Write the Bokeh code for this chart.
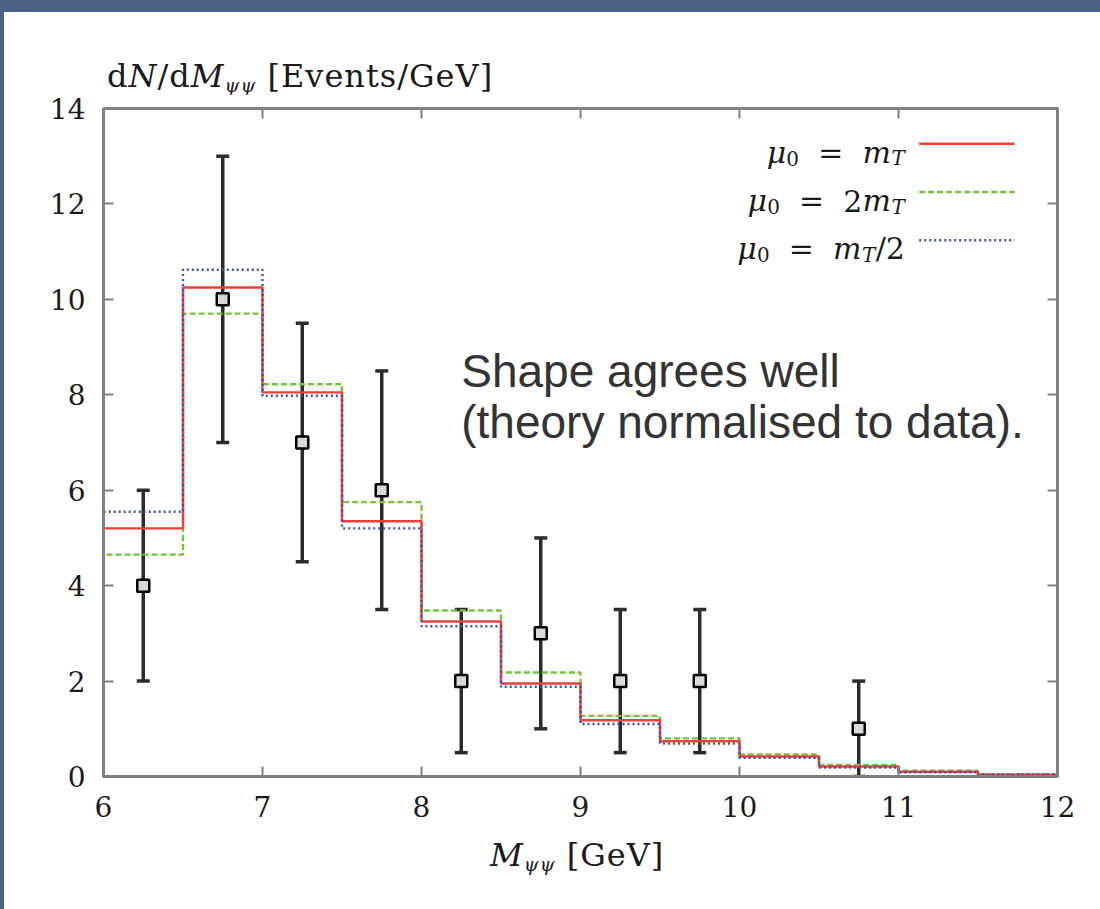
from bokeh.plotting import figure
from bokeh.models import (Label, Whisker, TeeHead, ColumnDataSource, LinearAxis,
                          Range1d, FixedTicker, Div)
from bokeh.layouts import column
from bokeh.embed import file_html
from bokeh.resources import INLINE

# ---------------- data ----------------
bin_edges = [6.0, 6.5, 7.0, 7.5, 8.0, 8.5, 9.0, 9.5, 10.0, 10.5, 11.0, 11.5, 12.0]
mu_mT = [5.2, 10.25, 8.05, 5.35, 3.25, 1.95, 1.18, 0.74, 0.42, 0.21, 0.10, 0.04]
mu_2mT = [4.65, 9.7, 8.22, 5.75, 3.48, 2.18, 1.27, 0.80, 0.46, 0.24, 0.12, 0.05]
mu_mT_half = [5.55, 10.62, 7.98, 5.2, 3.15, 1.88, 1.10, 0.69, 0.39, 0.19, 0.09, 0.04]

data_x = [6.25, 6.75, 7.25, 7.75, 8.25, 8.75, 9.25, 9.75, 10.75]
data_y = [4, 10, 7, 6, 2, 3, 2, 2, 1]
data_lo = [2, 7, 4.5, 3.5, 0.5, 1, 0.5, 0.5, 0]
data_hi = [6, 13, 9.5, 8.5, 3.5, 5, 3.5, 3.5, 2]

x_ticks = [6, 7, 8, 9, 10, 11, 12]
y_ticks = [0, 2, 4, 6, 8, 10, 12, 14]

note_lines = ["Shape agrees well", "(theory normalised to data)."]

# ---------------- style ----------------
SERIF = "DejaVu Serif"
SANS = "Liberation Sans"
AXIS = "#808080"
BG = "#4b6184"
RED, GREEN, BLUE = "#e8413c", "#78c23c", "#3b4fb4"
NB = "\u00a0"


def step_path(edges, vals):
    xs, ys = [edges[0]], [0.0]
    for i, v in enumerate(vals):
        xs += [edges[i], edges[i + 1]]
        ys += [v, v]
    xs.append(edges[-1])
    ys.append(0.0)
    return xs, ys


p = figure(width=1096, height=741, x_range=Range1d(6, 12), y_range=Range1d(0, 14),
           output_backend="svg", toolbar_location=None,
           min_border_left=99, min_border_right=43, min_border_top=14,
           min_border_bottom=59, background_fill_color="white",
           border_fill_color="white")
p.margin = (0, 0, 0, 4)
p.grid.visible = False
p.outline_line_color = AXIS
p.outline_line_width = 3

# histograms
for vals, col, dash in [(mu_2mT, GREEN, "6 3"), (mu_mT, RED, "solid"),
                        (mu_mT_half, BLUE, "2 3")]:
    xs, ys = step_path(bin_edges, vals)
    p.line(xs, ys, line_color=col, line_width=2.4, line_dash=dash)

# data points
src = ColumnDataSource(dict(x=data_x, y=data_y, lo=data_lo, hi=data_hi))
wh = Whisker(source=src, base="x", lower="lo", upper="hi", line_color="#2b2b2b",
             line_width=3.5,
             upper_head=TeeHead(size=13, line_width=3.5, line_color="#2b2b2b"),
             lower_head=TeeHead(size=13, line_width=3.5, line_color="#2b2b2b"))
p.add_layout(wh)
p.scatter("x", "y", source=src, marker="square", size=12, fill_color="#d8d8d8",
          line_color="black", line_width=2.5)


# axes
def style_axis(ax, ticks, show_labels):
    ax.ticker = FixedTicker(ticks=ticks)
    ax.axis_line_color = AXIS
    ax.axis_line_width = 3
    ax.major_tick_line_color = AXIS
    ax.major_tick_line_width = 2
    ax.major_tick_in = 10
    ax.major_tick_out = 0
    ax.minor_tick_line_color = None
    if show_labels:
        ax.major_label_text_font = SERIF
        ax.major_label_text_font_size = "28px"
        ax.major_label_text_color = "#1a1a1a"
    else:
        ax.major_label_text_font_size = "0px"
        ax.major_label_text_color = None
        ax.major_label_standoff = 0


style_axis(p.xaxis[0], x_ticks, True)
style_axis(p.yaxis[0], y_ticks, True)
p.xaxis[0].major_label_standoff = 19
p.yaxis[0].major_label_standoff = 18
top_ax = LinearAxis()
right_ax = LinearAxis()
style_axis(top_ax, x_ticks, False)
style_axis(right_ax, y_ticks, False)
p.add_layout(top_ax, "above")
p.add_layout(right_ax, "right")

# ---------------- legend (text pieces, right aligned) ----------------
EQ = NB + NB + "=" + NB + NB
W = {"μ": 0.66, "0": 0.64, EQ: 2.11, "2": 0.64, "m": 0.95, "T": 0.70, "/2": 0.98}


def legend_entry(x, y, parts):
    off = 0
    for t, st, s, dy in reversed(parts):
        p.add_layout(Label(x=x, y=y, x_offset=off, y_offset=dy, text=t,
                           text_font=SERIF, text_font_style=st,
                           text_font_size=f"{s}px", text_color="#1a1a1a",
                           text_baseline="alphabetic", text_align="right"))
        off -= W[t] * s


MU = [("μ", "italic", 30, 0), ("0", "normal", 20, -6), (EQ, "normal", 30, 0)]
leg_y = [13.08, 12.07, 11.06]
leg_parts = [
    MU + [("m", "italic", 30, 0), ("T", "italic", 20, -6)],
    MU + [("2", "normal", 30, 0), ("m", "italic", 30, 0), ("T", "italic", 20, -6)],
    MU + [("m", "italic", 30, 0), ("T", "italic", 20, -6), ("/2", "normal", 30, 0)],
]
leg_cols = [(RED, "solid"), (GREEN, "6 3"), (BLUE, "2 3")]
for yy, parts, (col, dash) in zip(leg_y, leg_parts, leg_cols):
    legend_entry(11.04, yy, parts)
    p.line([11.13, 11.73], [yy + 0.18, yy + 0.18], line_color=col, line_width=2.4,
           line_dash=dash)

# annotation
for i, line in enumerate(note_lines):
    p.add_layout(Label(x=8.25, y=8.5 - 1.08 * i, text=line, text_font=SANS,
                       text_font_size="46px", text_color="#333333",
                       text_baseline="alphabetic"))

# ---------------- axis titles (HTML text) ----------------
SUB = ('<span style="font-size:19px;font-style:italic;position:relative;'
       'top:5px;">ψψ</span>')
TITLE_CSS = ("font-family:'DejaVu Serif';font-size:32px;line-height:32px;"
             "letter-spacing:1px;color:#1a1a1a;white-space:nowrap;")
topbar = Div(text="", width=1100, height=12, margin=(0, 0, 0, 0),
             styles={"background-color": BG})
ytitle = Div(
    text=('<div style="' + TITLE_CSS + 'padding:48px 0 0 103px;">'
          'd<i>N</i>/d<i>M</i>' + SUB + ' [Events/GeV]</div>'),
    width=1096, height=82, margin=(0, 0, 0, 4),
    styles={"background-color": "white"})
xtitle = Div(
    text=('<div style="' + TITLE_CSS + 'padding:4px 0 0 486px;">'
          '<i>M</i>' + SUB + ' [GeV]</div>'),
    width=1096, height=74, margin=(0, 0, 0, 4),
    styles={"background-color": "white"})

layout = column(topbar, ytitle, p, xtitle, width=1100, height=909, spacing=0,
                styles={"background": f"linear-gradient(to right, {BG} 4px, white 4px)"})
open("out.html", "w").write(file_html(layout, INLINE))
